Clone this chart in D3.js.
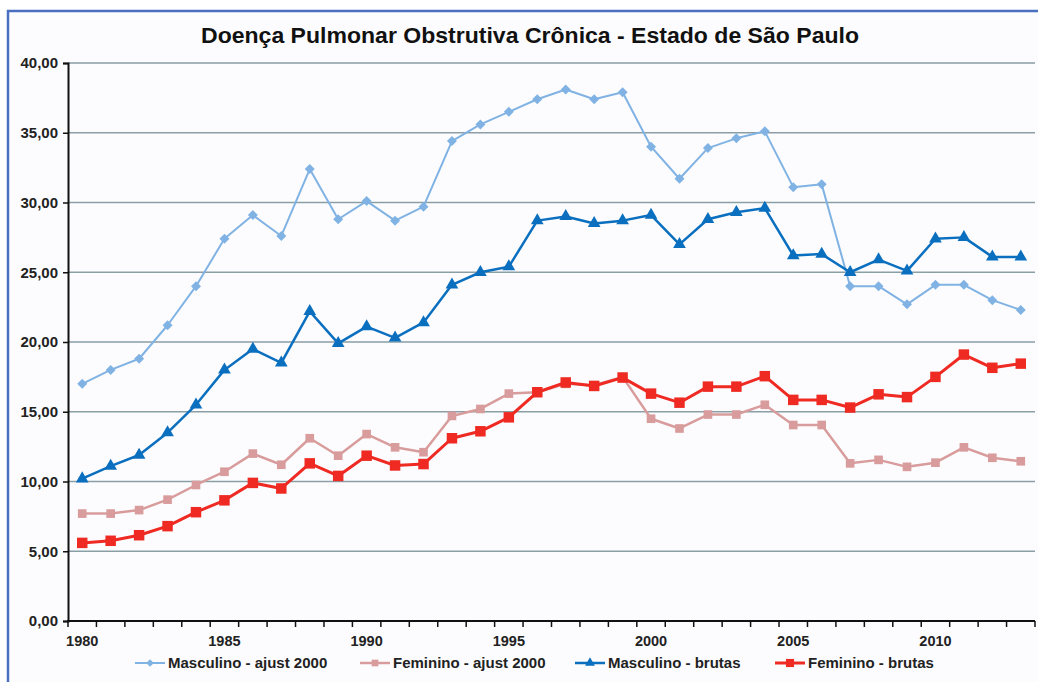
<!DOCTYPE html>
<html>
<head>
<meta charset="utf-8">
<script src="https://cdn.jsdelivr.net/npm/d3@7"></script>
<style>
  body { margin: 0; background: #fff; }
  text { font-family: "Liberation Sans", Arial, sans-serif; font-weight: bold; }
</style>
</head>
<body>
<svg id="chart"></svg>
<script>
// data
const years = d3.range(1980, 2014);
const seriesNames = ["Masculino - ajust 2000", "Feminino - ajust 2000", "Masculino - brutas", "Feminino - brutas"];

const mascAjust = [17.0, 18.0, 18.8, 21.2, 24.0, 27.4, 29.1, 27.6, 32.4, 28.8, 30.1, 28.7, 29.7, 34.4, 35.6, 36.5, 37.4, 38.1, 37.4, 37.9,
  34.0, 31.7, 33.9, 34.6, 35.1, 31.1, 31.3, 24.0, 24.0, 22.7, 24.1, 24.1, 23.0, 22.3];
const femAjust = [7.7, 7.7, 7.95, 8.7, 9.75, 10.7, 12.0, 11.2, 13.1, 11.85, 13.4, 12.45, 12.1, 14.7, 15.2, 16.3, 16.4, 17.0, 16.9, 17.5,
  14.5, 13.8, 14.8, 14.8, 15.5, 14.05, 14.05, 11.3, 11.55, 11.05, 11.35, 12.45, 11.7, 11.45];
const mascBrutas = [10.2, 11.1, 11.9, 13.5, 15.5, 18.0, 19.5, 18.5, 22.2, 19.9, 21.1, 20.3, 21.4, 24.1, 25.0, 25.4, 28.7, 29.0, 28.5, 28.7,
  29.1, 27.0, 28.8, 29.3, 29.6, 26.2, 26.3, 25.0, 25.9, 25.1, 27.4, 27.5, 26.1, 26.1];
const femBrutas = [5.6, 5.75, 6.15, 6.8, 7.8, 8.65, 9.9, 9.5, 11.3, 10.4, 11.85, 11.15, 11.25, 13.1, 13.6, 14.6, 16.4, 17.1, 16.85, 17.45,
  16.3, 15.65, 16.8, 16.8, 17.55, 15.85, 15.85, 15.3, 16.25, 16.05, 17.5, 19.1, 18.15, 18.45];
const yTicks = [0, 5, 10, 15, 20, 25, 30, 35, 40];
const xLabelYears = [1980, 1985, 1990, 1995, 2000, 2005, 2010];

const W = 1038, H = 682;
const svg = d3.select("#chart").attr("width", W).attr("height", H);

// frame
svg.append("rect").attr("x", 8).attr("y", 11).attr("width", W + 20).attr("height", H + 20)
  .attr("fill", "#fcfcfe").attr("stroke", "#4a6fc0").attr("stroke-width", 2.5);

svg.append("text").attr("x", 530).attr("y", 43).attr("text-anchor", "middle")
  .attr("font-size", 22).attr("fill", "#111")
  .attr("textLength", 658).attr("lengthAdjust", "spacingAndGlyphs")
  .text("Doença Pulmonar Obstrutiva Crônica - Estado de São Paulo");

const x = d3.scaleBand().domain(years).range([68, 1035]);
const y = d3.scaleLinear().domain([0, 40]).range([621, 63]);
const cx = d => x(d) + x.bandwidth() / 2;

// grid
svg.append("g").selectAll("line").data(yTicks.filter(t => t > 0)).join("line")
  .attr("x1", 68).attr("x2", 1035)
  .attr("y1", d => y(d)).attr("y2", d => y(d))
  .attr("stroke", "#8a9ea6").attr("stroke-width", 1.3);

// y axis
const yAxis = svg.append("g").attr("transform", "translate(68,0)")
  .call(d3.axisLeft(y).tickValues(yTicks).tickSize(5).tickPadding(5)
    .tickFormat(d => d3.format(".2f")(d).replace(".", ",")));
yAxis.select(".domain").attr("stroke", "#111").attr("stroke-width", 2);
yAxis.selectAll(".tick line").attr("stroke", "#111").attr("stroke-width", 1.5);
yAxis.selectAll("text").attr("font-size", 15).attr("fill", "#222")
  .style("font-family", "'Liberation Sans', Arial, sans-serif").style("font-weight", "bold");

// x axis (ticks at category boundaries)
const xg = svg.append("g");
xg.append("line").attr("x1", 67).attr("x2", 1035).attr("y1", 621).attr("y2", 621)
  .attr("stroke", "#111").attr("stroke-width", 2);
xg.selectAll(".xt").data(years.concat([2014])).join("line").attr("class", "xt")
  .attr("x1", d => d === 2014 ? 1035 : x(d)).attr("x2", d => d === 2014 ? 1035 : x(d))
  .attr("y1", 621).attr("y2", 627).attr("stroke", "#111").attr("stroke-width", 1.5);
xg.selectAll(".xl").data(xLabelYears).join("text").attr("class", "xl")
  .attr("x", d => cx(d)).attr("y", 646).attr("text-anchor", "middle")
  .attr("font-size", 14.5).attr("fill", "#222").text(d => d);

const series = [
  { name: seriesNames[0], values: mascAjust, color: "#80b3e3", width: 2, shape: d3.symbolSquare, size: 50, rot: 45 },
  { name: seriesNames[1], values: femAjust, color: "#d99c9c", width: 2.5, shape: d3.symbolSquare, size: 75, rot: 0 },
  { name: seriesNames[2], values: mascBrutas, color: "#0b6fbf", width: 2.5, shape: d3.symbolTriangle, size: 70, rot: 0 },
  { name: seriesNames[3], values: femBrutas, color: "#ee2a22", width: 3, shape: d3.symbolSquare, size: 110, rot: 0 }
];

const line = d3.line().x((d, i) => cx(years[i])).y(d => y(d));

series.forEach(s => {
  const g = svg.append("g");
  g.append("path").datum(s.values).attr("d", line)
    .attr("fill", "none").attr("stroke", s.color).attr("stroke-width", s.width)
    .attr("stroke-linejoin", "round");
  g.selectAll("path.m").data(s.values).join("path").attr("class", "m")
    .attr("transform", (d, i) => `translate(${cx(years[i])},${y(d)}) rotate(${s.rot})`)
    .attr("d", d3.symbol(s.shape, s.size)).attr("fill", s.color);
});

// legend
const legendX = [135, 360, 575, 775];
const lg = svg.append("g").selectAll("g").data(series).join("g")
  .attr("transform", (d, i) => `translate(${legendX[i]},663)`);
lg.append("line").attr("x1", 0).attr("x2", 30).attr("stroke", d => d.color).attr("stroke-width", d => d.width);
lg.append("path").attr("transform", d => `translate(15,0) rotate(${d.rot})`)
  .attr("d", d => d3.symbol(d.shape, d.size * 0.6)()).attr("fill", d => d.color);
lg.append("text").attr("x", 33).attr("y", 5).attr("font-size", 15).attr("fill", "#222").text(d => d.name);
</script>
</body>
</html>
